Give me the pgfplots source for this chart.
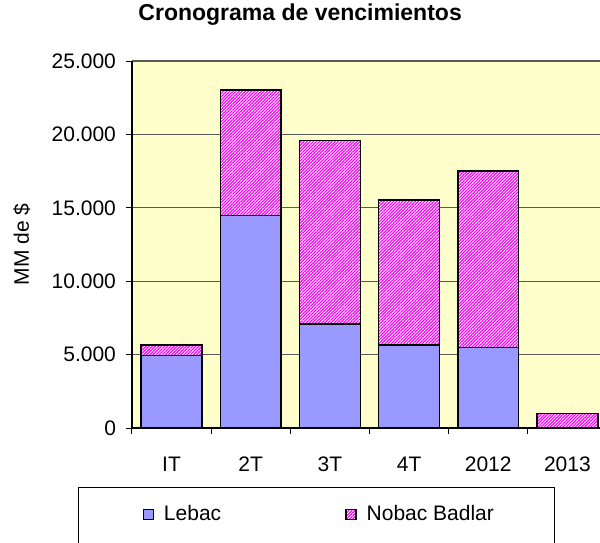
\documentclass[border=0pt]{standalone}
\usepackage{pgfplots}
\pgfplotsset{compat=1.18}
\usetikzlibrary{patterns.meta}
\usepackage{fontspec}
\setmainfont{Liberation Sans}
\definecolor{plotbg}{HTML}{FFFFCC}
\definecolor{lebac}{HTML}{9999FF}
\definecolor{nobac}{HTML}{FF00FF}
\pgfplotstableread{
x lebac nobac
0 4925 725
1 14490 8550
2 7080 12490
3 5650 9880
4 5470 12030
5 0 1000
}\vencimientos
\begin{document}
\begin{tikzpicture}
\clip (-66pt,-57pt) rectangle (234pt,214pt);
\useasboundingbox (-66pt,-57pt) rectangle (234pt,214pt);
\begin{axis}[
scale only axis,
width=237.5pt, height=183.5pt,
ybar stacked, bar width=0.77,
xmin=-0.5, xmax=5.5, ymin=0, ymax=25000,
axis background/.style={fill=plotbg},
axis x line*=bottom, axis y line*=left,
axis line style={black, line width=0.6pt},
ytick={0,5000,...,25000},
scaled y ticks=false,
yticklabel style={/pgf/number format/1000 sep={.}, xshift=-1.5pt},
/pgf/number format/assume math mode=true,
xtick=data,
xticklabels={IT,2T,3T,4T,2012,2013},
xticklabel style={yshift=-8pt},
minor xtick={-0.5,0.5,...,5.5},
tick align=outside,
major x tick style={draw=none},
tick style={black, line width=0.5pt},
major tick length=3pt, minor tick length=3pt,
ymajorgrids, grid style={gray!70!black, line width=0.6pt},
font=\fontsize{10.5}{12.5}\selectfont,
ylabel={MM de \$},
ylabel style={at={(axis description cs:-0.232,0.5)}, anchor=center},
title={\bfseries Cronograma de vencimientos},
title style={at={(axis description cs:0.354,1.093)}, anchor=center, font=\fontsize{11.5}{13}\selectfont},
legend columns=2,
legend style={at={(axis description cs:-0.1137,-0.1608)}, anchor=north west,
  draw=black, line width=0.5pt, inner xsep=28.5pt, inner ysep=7pt,
  /tikz/every even column/.append style={column sep=56.5pt}},
legend image code/.code={\path (0pt,-8pt) (11.5pt,0pt); \draw[#1, line width=0.6pt] (3.5pt,-2.5pt) rectangle (8.5pt,2.5pt);},
]
\addplot[fill=lebac, draw=black, line width=0.75pt] table[x=x, y=lebac] {\vencimientos};
\addplot[fill=white, draw=black, line width=0.75pt,
  postaction={pattern={Lines[angle=45, distance=1.1pt, line width=0.6pt]}, pattern color=nobac}]
  table[x=x, y=nobac] {\vencimientos};
\legend{Lebac, Nobac Badlar}
\end{axis}
\end{tikzpicture}
\end{document}
